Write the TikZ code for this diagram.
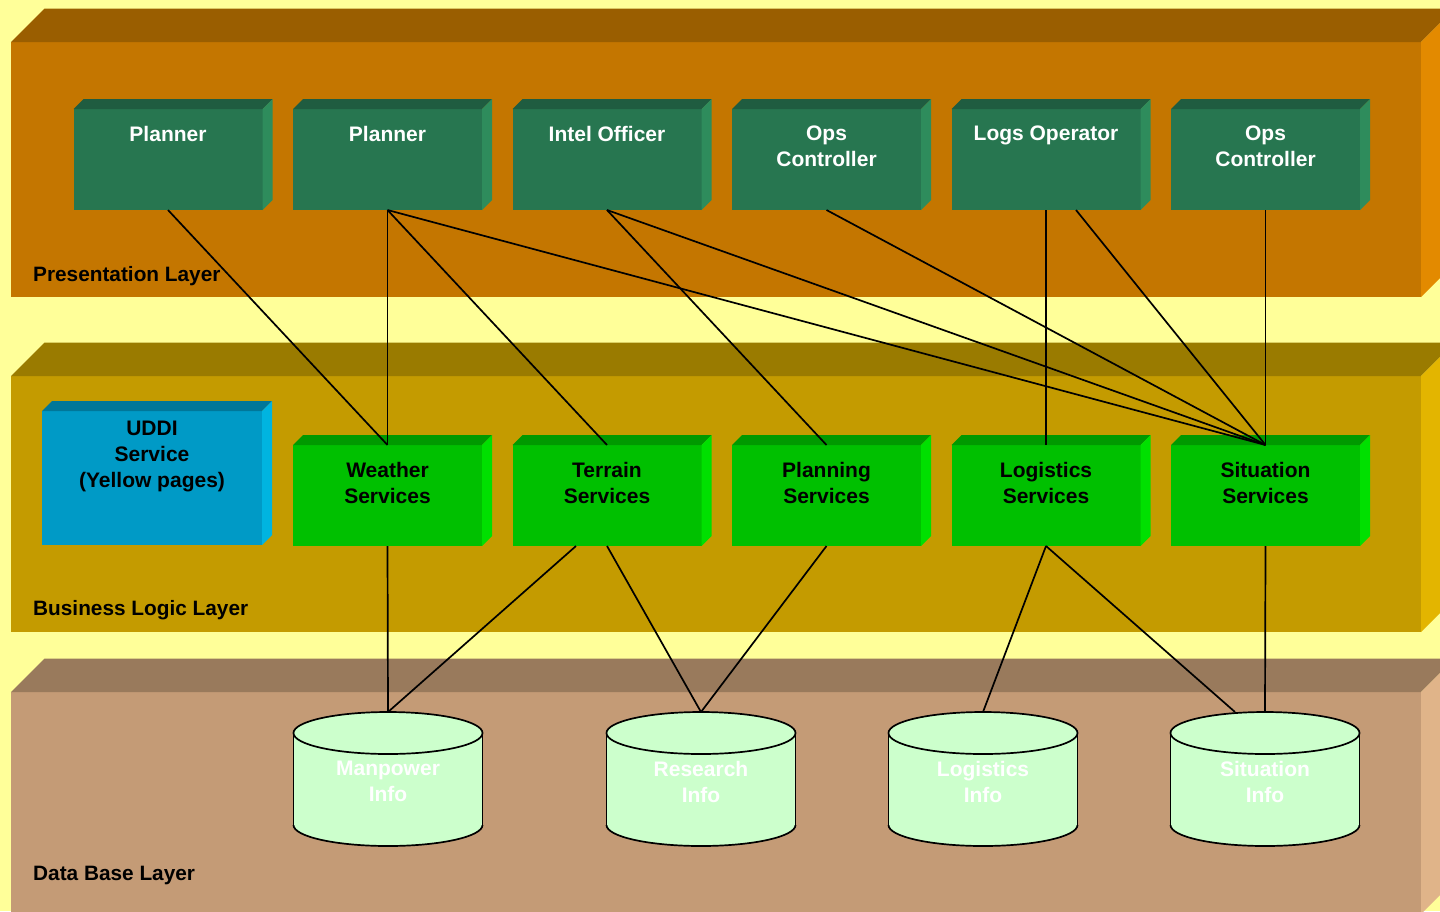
\documentclass[tikz,border=0pt]{standalone}
\usepackage{fontspec}
\setmainfont{Liberation Sans}
\usetikzlibrary{calc}
\definecolor{bg}{HTML}{FFFF99}
\definecolor{presF}{HTML}{C47600}
\definecolor{presT}{HTML}{9A5E00}
\definecolor{presS}{HTML}{E38A00}
\definecolor{busF}{HTML}{C49B00}
\definecolor{busT}{HTML}{9A7B00}
\definecolor{busS}{HTML}{E3B500}
\definecolor{dataF}{HTML}{C49B76}
\definecolor{dataT}{HTML}{997A5C}
\definecolor{dataS}{HTML}{E0B489}
\definecolor{tealF}{HTML}{277650}
\definecolor{tealT}{HTML}{1F5C40}
\definecolor{tealS}{HTML}{2E8C5C}
\definecolor{grnF}{HTML}{00C000}
\definecolor{grnT}{HTML}{009900}
\definecolor{grnS}{HTML}{00E000}
\definecolor{bluF}{HTML}{009AC6}
\definecolor{bluT}{HTML}{007799}
\definecolor{bluS}{HTML}{00B4E0}
\definecolor{cylF}{HTML}{CCFFCC}
\tikzset{
  face/.style={inner sep=0pt, outer sep=0pt, anchor=north west},
  boxtxt/.style={anchor=north, inner sep=0pt, align=center, font=\bfseries\fontsize{21}{26}\selectfont},
  layertxt/.style={anchor=base west, inner sep=0pt, font=\bfseries\fontsize{20.8}{25}\selectfont},
  link/.style={draw=black, line width=1.7pt},
  cylline/.style={draw=black, line width=1.7pt},
}
% name, x, y, w, h, depth, colour prefix
\newcommand\mkblock[7]{%
  \node[face, fill=#7F, minimum width=#4pt, minimum height=#5pt] (#1) at (#2,#3) {};
  \fill[#7T] (#1.north west) -- ++(#6,-#6) -- ($(#1.north east)+(#6,-#6)$) -- (#1.north east) -- cycle;
  \fill[#7S] (#1.north east) -- ++(#6,-#6) -- ($(#1.south east)+(#6,-#6)$) -- (#1.south east) -- cycle;
}
% name, centre x
\newcommand\mkcyl[2]{%
  \node[inner sep=0pt, outer sep=0pt, minimum width=189pt, minimum height=135pt, anchor=north] (#1) at (#2,712) {};
  \fill[cylF] (#2-94.5,733) rectangle (#2+94.5,825);
  \fill[cylF] (#2,825) ellipse [x radius=94.5, y radius=21];
  \fill[cylF] (#2,733) ellipse [x radius=94.5, y radius=21];
  \draw[cylline] (#2-94.5,733) -- (#2-94.5,825) (#2+94.5,733) -- (#2+94.5,825);
  \draw[cylline] (#2,733) ellipse [x radius=94.5, y radius=21];
  \begin{scope}
    \clip (#2-100,825) rectangle (#2+100,852);
    \draw[cylline] (#2,825) ellipse [x radius=94.5, y radius=21];
  \end{scope}
}
\begin{document}
\begin{tikzpicture}[x=1pt,y=-1pt]
\useasboundingbox (0,0) rectangle (1440,911);
\clip (0,0) rectangle (1440,911);
\fill[bg] (0,0) rectangle (1440,911);

% layers
\mkblock{LP}{11}{42}{1410}{255}{33.5}{pres}
\mkblock{LB}{11}{376}{1410}{256}{33.5}{bus}
\mkblock{LD}{11}{692}{1410}{222}{33.5}{data}
\node[layertxt] (tLP) at (33,281) {Presentation Layer};
\node[layertxt] (tLB) at (33,615) {Business Logic Layer};
\node[layertxt] (tLD) at (33,880) {Data Base Layer};

% presentation boxes
\mkblock{p1}{73.5}{109}{189}{101}{10}{teal}
\mkblock{p2}{293}{109}{189}{101}{10}{teal}
\mkblock{p3}{512.5}{109}{189}{101}{10}{teal}
\mkblock{p4}{732}{109}{189}{101}{10}{teal}
\mkblock{p5}{951.5}{109}{189}{101}{10}{teal}
\mkblock{p6}{1171}{109}{189}{101}{10}{teal}
\node[boxtxt, text=white] (tp1) at ($(p1.north)+(0,17)$) {Planner};
\node[boxtxt, text=white] (tp2) at ($(p2.north)+(0,17)$) {Planner};
\node[boxtxt, text=white] (tp3) at ($(p3.north)+(0,17)$) {Intel Officer};
\node[boxtxt, text=white] (tp4) at ($(p4.north)+(0,17)$) {Ops\\Controller};
\node[boxtxt, text=white] (tp5) at ($(p5.north)+(0,17)$) {Logs Operator};
\node[boxtxt, text=white] (tp6) at ($(p6.north)+(0,17)$) {Ops\\Controller};

% business boxes
\mkblock{ud}{42}{411}{220}{134}{10}{blu}
\mkblock{ws}{293}{445}{189}{101}{10}{grn}
\mkblock{ts}{512.5}{445}{189}{101}{10}{grn}
\mkblock{ps}{732}{445}{189}{101}{10}{grn}
\mkblock{ls}{951.5}{445}{189}{101}{10}{grn}
\mkblock{ss}{1171}{445}{189}{101}{10}{grn}
\node[boxtxt] (tud) at ($(ud.north)+(0,9.5)$) {UDDI\\Service\\(Yellow pages)};
\node[boxtxt] (tws) at ($(ws.north)+(0,17)$) {Weather\\Services};
\node[boxtxt] (tts) at ($(ts.north)+(0,17)$) {Terrain\\Services};
\node[boxtxt] (tps) at ($(ps.north)+(0,17)$) {Planning\\Services};
\node[boxtxt] (tls) at ($(ls.north)+(0,17)$) {Logistics\\Services};
\node[boxtxt] (tss) at ($(ss.north)+(0,17)$) {Situation\\Services};

% databases
\mkcyl{mi}{388}
\mkcyl{ri}{701}
\mkcyl{li}{983}
\mkcyl{si}{1265}
\node[boxtxt, text=white] (tmi) at ($(mi.north)+(0,49)$) {Manpower\\Info};
\node[boxtxt, text=white] (tri) at ($(ri.north)+(0,49)$) {Research\\Info};
\node[boxtxt, text=white] (tli) at ($(li.north)+(0,49)$) {Logistics\\Info};
\node[boxtxt, text=white] (tsi) at ($(si.north)+(0,49)$) {Situation\\Info};

% connectors
\draw[link] (p1.south) -- (ws.north);
\draw[link] (p2.south) -- (ws.north);
\draw[link] (p2.south) -- (ts.north);
\draw[link] (p2.south) -- (ss.north);
\draw[link] (p3.south) -- (ps.north);
\draw[link] (p3.south) -- (ss.north);
\draw[link] (p4.south) -- (ss.north);
\draw[link] (p5.south) -- (ls.north);
\draw[link] ($(p5.south)+(30,0)$) -- (ss.north);
\draw[link] (p6.south) -- (ss.north);
\draw[link] (ws.south) -- (mi.north);
\draw[link] ($(ts.south)+(-31,0)$) -- (mi.north);
\draw[link] (ts.south) -- (ri.north);
\draw[link] (ps.south) -- (ri.north);
\draw[link] (ls.south) -- (li.north);
\draw[link] (ls.south) -- ($(si.north)+(-30,0)$);
\draw[link] (ss.south) -- (si.north);
\end{tikzpicture}
\end{document}
